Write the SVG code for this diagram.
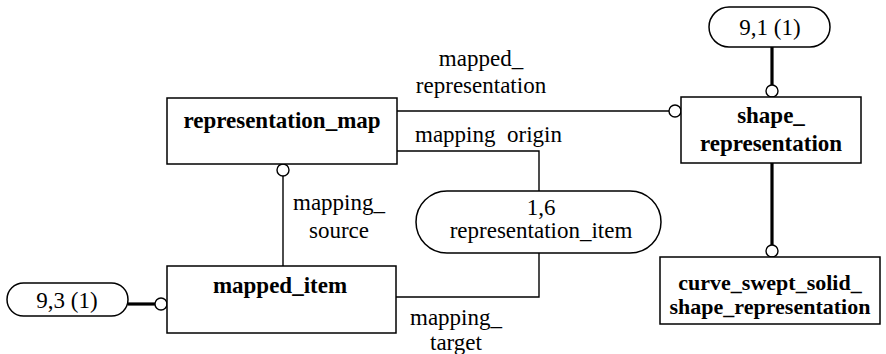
<svg xmlns="http://www.w3.org/2000/svg" width="886" height="354" viewBox="0 0 886 354">
<style>
.box{fill:#fff;stroke:#000;stroke-width:1.5}
.ln{fill:none;stroke:#000;stroke-width:1.4}
.tk{fill:none;stroke:#000;stroke-width:3.2}
.ci{fill:#fff;stroke:#000;stroke-width:1.4}
.b{font-family:"Liberation Serif","Times New Roman",serif;font-weight:bold;font-size:23px;text-anchor:middle}
.r{font-family:"Liberation Serif","Times New Roman",serif;font-size:23px;text-anchor:middle}
</style>
<rect width="886" height="354" fill="#fff"/>
<g id="connectors">
<line class="ln" x1="397" y1="111" x2="669" y2="111"/>
<circle class="ci" cx="675" cy="111" r="6"/>
<polyline class="ln" points="397,151 539,151 539,191"/>
<polyline class="ln" points="539,253 539,297 396,297"/>
<line class="ln" x1="283" y1="176" x2="283" y2="266"/>
<circle class="ci" cx="283" cy="170" r="6"/>
<line class="tk" x1="128" y1="304" x2="155" y2="304"/>
<circle class="ci" cx="161" cy="304" r="6"/>
<line class="tk" x1="772" y1="47" x2="772" y2="85"/>
<circle class="ci" cx="772" cy="91" r="6"/>
<line class="tk" x1="772" y1="163" x2="772" y2="245"/>
<circle class="ci" cx="772" cy="251" r="6"/>
<text class="r" x="481" y="66">mapped_</text>
<text class="r" x="481" y="93">representation</text>
<text class="r" x="415" y="142" style="text-anchor:start" xml:space="preserve">mapping  origin</text>
<text class="r" x="339" y="210">mapping_</text>
<text class="r" x="339" y="238">source</text>
<text class="r" x="456" y="325">mapping_</text>
<text class="r" x="456" y="350">target</text>
</g>
<g id="representation_map">
<rect class="box" x="167" y="98" width="230" height="66"/>
<text class="b" x="282" y="128">representation_map</text>
</g>
<g id="shape_representation">
<rect class="box" x="681" y="97" width="180" height="66"/>
<text class="b" x="771" y="123">shape_</text>
<text class="b" x="771" y="151">representation</text>
</g>
<g id="mapped_item">
<rect class="box" x="167" y="266" width="229" height="67"/>
<text class="b" x="280" y="293">mapped_item</text>
</g>
<g id="curve_swept_solid_shape_representation">
<rect class="box" x="660" y="257" width="220" height="67"/>
<text class="b" x="770" y="290" style="font-size:22px">curve_swept_solid_</text>
<text class="b" x="770" y="314" style="font-size:22px">shape_representation</text>
</g>
<g id="representation_item">
<rect class="box" x="416" y="191" width="245" height="62" rx="31" ry="31"/>
<text class="r" x="541" y="215">1,6</text>
<text class="r" x="541" y="238">representation_item</text>
</g>
<g id="ref_9_1">
<rect class="box" x="709" y="7" width="121" height="40" rx="20" ry="20"/>
<text class="r" x="770" y="35">9,1 (1)</text>
</g>
<g id="ref_9_3">
<rect class="box" x="7" y="283" width="121" height="33" rx="16.5" ry="16.5"/>
<text class="r" x="67" y="308">9,3 (1)</text>
</g>
</svg>
